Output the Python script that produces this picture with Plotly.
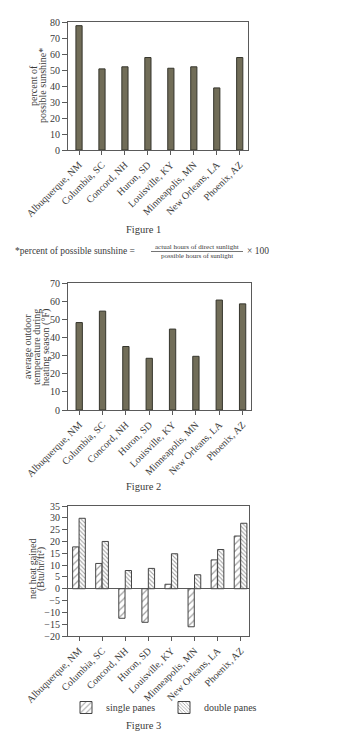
import plotly.graph_objects as go

cities = ["Albuquerque, NM", "Columbia, SC", "Concord, NH", "Huron, SD",
          "Louisville, KY", "Minneapolis, MN", "New Orleans, LA", "Phoenix, AZ"]
sunshine = [77.7, 50.7, 52, 57.8, 51.1, 52, 38.8, 57.8]
temperature = [48.2, 54.5, 35, 28.5, 44.6, 29.6, 60.6, 58.5]
single_panes = [17.7, 10.7, -12.5, -14.2, 1.9, -16.1, 12.2, 22.3]
double_panes = [29.8, 20.0, 7.7, 8.6, 14.8, 5.9, 16.6, 27.7]

W, H = 346, 744
FONT = "Liberation Serif"
TXT = "#3a3a3a"
LINE = "#5a5a5a"
BAR = "#716d58"
BAR_EDGE = "#35352c"

def px(x):
    return x / W

def py(y):
    return 1 - y / H

fig = go.Figure()

fig.add_trace(go.Bar(x=cities, y=sunshine, width=0.27, marker=dict(color=BAR, line=dict(color=BAR_EDGE, width=1)),
                     showlegend=False, xaxis="x", yaxis="y"))
fig.add_trace(go.Bar(x=cities, y=temperature, width=0.27, marker=dict(color=BAR, line=dict(color=BAR_EDGE, width=1)),
                     showlegend=False, xaxis="x2", yaxis="y2"))
fig.add_trace(go.Bar(x=cities, y=single_panes, width=0.27, offset=-0.28, name="single panes",
                     marker=dict(color="white", line=dict(color="#444", width=1),
                                 pattern=dict(shape="/", fgcolor="#444", bgcolor="white", size=5, solidity=0.25)),
                     xaxis="x3", yaxis="y3"))
fig.add_trace(go.Bar(x=cities, y=double_panes, width=0.27, offset=0.0, name="double panes",
                     marker=dict(color="white", line=dict(color="#444", width=1),
                                 pattern=dict(shape="\\", fgcolor="#444", bgcolor="white", size=3, solidity=0.35)),
                     xaxis="x3", yaxis="y3"))

xcommon = dict(type="category", range=[-0.48, 7.36], showline=True, mirror=True, linecolor=LINE, linewidth=1,
               ticks="outside", ticklen=4, tickcolor=LINE, tickangle=-45, showgrid=False,
               tickmode="array", tickvals=cities, ticktext=cities,
               tickfont=dict(family=FONT, size=10, color=TXT))
ycommon = dict(showline=True, mirror=True, linecolor=LINE, linewidth=1, ticks="outside", ticklen=5,
               tickcolor=LINE, showgrid=False, zeroline=False, tickfont=dict(family=FONT, size=10, color=TXT))

fig.update_layout(
    width=W, height=H, margin=dict(l=0, r=0, t=0, b=0, autoexpand=False),
    paper_bgcolor="white", plot_bgcolor="white",
    font=dict(family=FONT, size=10, color=TXT),
    xaxis=dict(domain=[px(68), px(248)], anchor="y", **xcommon),
    yaxis=dict(domain=[py(150), py(22)], anchor="x", range=[0, 80], dtick=10, **ycommon),
    xaxis2=dict(domain=[px(68), px(251)], anchor="y2", **xcommon),
    yaxis2=dict(domain=[py(410), py(283)], anchor="x2", range=[0, 70], dtick=10, **ycommon),
    xaxis3=dict(domain=[px(68), px(249)], anchor="y3", **xcommon),
    yaxis3=dict(domain=[py(636), py(506)], anchor="x3", range=[-20, 35], dtick=5, **ycommon),
    legend=dict(orientation="h", x=px(66), y=py(693), xanchor="left", yanchor="top",
                entrywidth=53, entrywidthmode="pixels", font=dict(family=FONT, size=10, color=TXT),
                bgcolor="rgba(0,0,0,0)", itemwidth=30, tracegroupgap=0),
    bargap=0.7,
)
fig.update_layout(yaxis3_zeroline=True, yaxis3_zerolinecolor=LINE, yaxis3_zerolinewidth=1)

ann = []
def add(text, x, y, size=10, angle=0, xanchor="center", yanchor="middle"):
    ann.append(dict(text=text, x=px(x), y=py(y), xref="paper", yref="paper", showarrow=False,
                    textangle=angle, xanchor=xanchor, yanchor=yanchor,
                    font=dict(family=FONT, size=size, color=TXT)))

# y-axis titles, one annotation per line for tight line spacing
add("percent of", 33, 86, angle=-90)
add("possible sunshine*", 42, 86, angle=-90)
add("average outdoor", 28, 347, angle=-90)
add("temperature during", 37, 347, angle=-90)
add("heating season (°F)", 46, 347, angle=-90)
add("net heat gained", 32, 569, angle=-90)
add("(Btu/hr/ft²)", 41, 569, angle=-90)

add("Figure 1", 143, 229, size=10.5)
add("Figure 2", 143, 486, size=10.5)
add("Figure 3", 143, 725, size=10.5)
add("*percent of possible sunshine =", 137, 251, size=9.5, xanchor="right")
add("actual hours of direct sunlight", 197, 247, size=7)
add("possible hours of sunlight", 197, 256, size=7)
add("× 100", 245, 251, size=9.5, xanchor="left")
fig.update_layout(annotations=ann)

fig.add_shape(type="line", xref="paper", yref="paper", x0=px(151), x1=px(243), y0=py(251.5), y1=py(251.5),
              line=dict(color=TXT, width=0.7))

fig.write_html("out.html")
